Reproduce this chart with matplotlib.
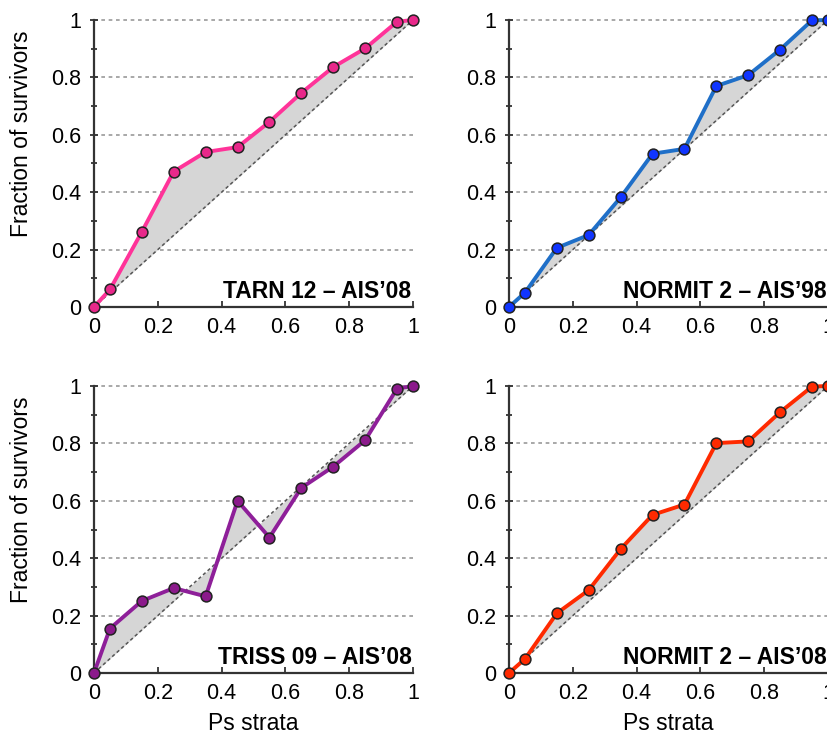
import matplotlib
matplotlib.use("Agg")
import matplotlib.pyplot as plt
from matplotlib.ticker import MultipleLocator, FuncFormatter
import numpy as np

plt.rcParams['font.family'] = ['Liberation Sans', 'DejaVu Sans']

strata = [0, 0.05, 0.15, 0.25, 0.35, 0.45, 0.55, 0.65, 0.75, 0.85, 0.95, 1.0]

tarn12_ais08 = [0, 0.061, 0.262, 0.472, 0.540, 0.557, 0.645, 0.746, 0.836, 0.901, 0.994, 1.0]
normit2_ais98 = [0, 0.050, 0.206, 0.251, 0.382, 0.534, 0.551, 0.770, 0.808, 0.897, 0.999, 1.0]
triss09_ais08 = [0, 0.155, 0.251, 0.296, 0.267, 0.600, 0.472, 0.645, 0.719, 0.811, 0.991, 1.0]
normit2_ais08 = [0, 0.049, 0.208, 0.289, 0.432, 0.551, 0.587, 0.801, 0.807, 0.909, 0.998, 1.0]

titles = ["TARN 12 \u2013 AIS\u201908", "NORMIT 2 \u2013 AIS\u201998",
          "TRISS 09 \u2013 AIS\u201908", "NORMIT 2 \u2013 AIS\u201908"]
series = [tarn12_ais08, normit2_ais98, triss09_ais08, normit2_ais08]
line_colors = ["#ff3399", "#1f6fc8", "#8e1f99", "#ff2a00"]
marker_colors = ["#e8288a", "#1035ff", "#8b1a8b", "#ff2a00"]

W, H = 827, 735
fig = plt.figure(figsize=(W / 100, H / 100), dpi=100)

ax_w, ax_h = 319, 287
positions = [(94, 20), (509, 20), (94, 386), (509, 386)]  # left, top in px

fmt = FuncFormatter(lambda v, p: "0" if abs(v) < 1e-9 else ("1" if abs(v - 1) < 1e-9 else f"{v:.1f}"))

for i, (pos, ys, title, lc, mc) in enumerate(zip(positions, series, titles, line_colors, marker_colors)):
    left, top = pos
    ax = fig.add_axes([left / W, 1 - (top + ax_h) / H, ax_w / W, ax_h / H])
    ax.set_xlim(0, 1)
    ax.set_ylim(0, 1)
    for s in ['top', 'right']:
        ax.spines[s].set_visible(False)
    for s in ['left', 'bottom']:
        ax.spines[s].set_color('#333333')
        ax.spines[s].set_linewidth(1.6)

    # grid lines
    for g in [0.2, 0.4, 0.6, 0.8, 1.0]:
        ax.plot([0, 1], [g, g], color='#9a9a9a', lw=1.2, dashes=(2.2, 2.2), zorder=1, clip_on=False)
    # diagonal
    ax.plot([0, 1], [0, 1], color='#555555', lw=1.1, dashes=(2.2, 1.8), zorder=2)
    x = np.array(strata)
    y = np.array(ys)
    ax.fill_between(x, y, x, color='#d6d6d6', zorder=1.5, lw=0)
    ax.plot(x, y, color=lc, lw=2.8, zorder=3, clip_on=False)
    ax.plot(x, y, 'o', ms=7.8, mfc=mc, mec='#222222', mew=1.1, zorder=4, clip_on=False)

    ax.xaxis.set_major_locator(MultipleLocator(0.2))
    ax.yaxis.set_major_locator(MultipleLocator(0.2))
    ax.yaxis.set_minor_locator(MultipleLocator(0.1))
    ax.xaxis.set_major_formatter(fmt)
    ax.yaxis.set_major_formatter(fmt)
    ax.tick_params(axis='y', which='major', direction='inout', length=6, width=1.3,
                   color='#333333', labelsize=15.5, pad=6)
    ax.tick_params(axis='y', which='minor', direction='inout', length=5, width=1.3, color='#333333')
    ax.tick_params(axis='x', which='major', direction='in', length=4, width=1.3,
                   color='#333333', labelsize=15.5, pad=7)

    ax.text(0.995, 0.03, title, transform=ax.transAxes, ha='right', va='baseline',
            fontsize=16.5, fontweight='bold', color='black', zorder=5)

    if i % 2 == 0:
        fig.text(22 / W, 1 - (top + 114) / H, "Fraction of survivors", rotation=90,
                 ha='center', va='center', fontsize=16.5)
    if i >= 2:
        fig.text((left + ax_w / 2) / W, 1 - 724 / H, "Ps strata", ha='center', va='center', fontsize=16.5)

fig.savefig("out.png", dpi=100)
